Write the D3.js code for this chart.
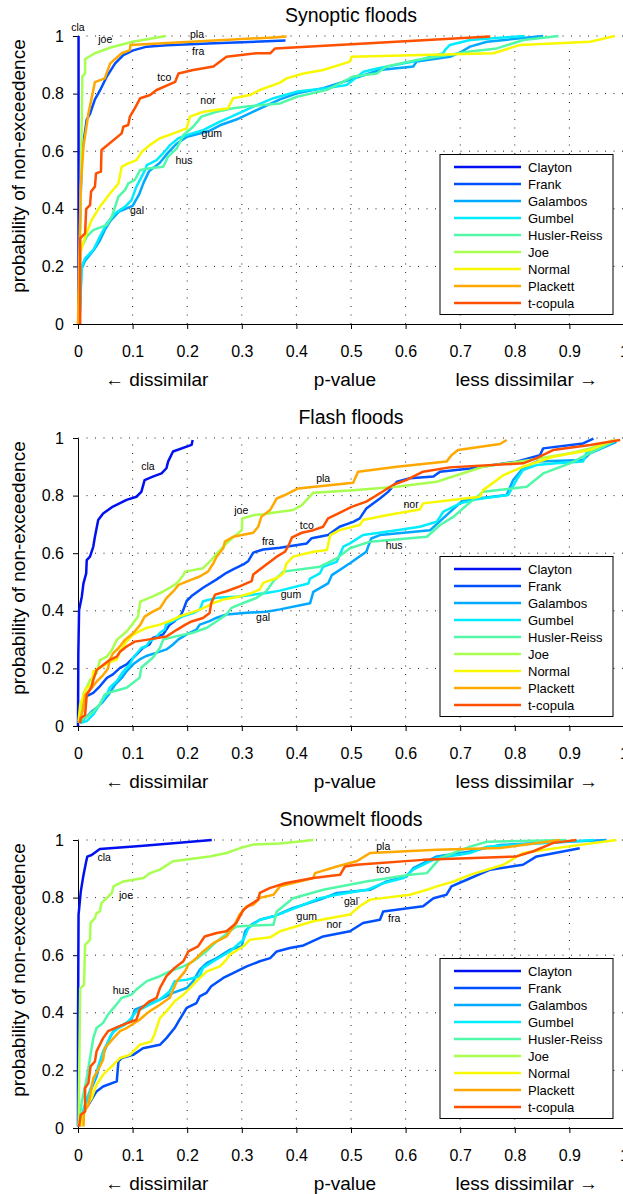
<!DOCTYPE html>
<html>
<head>
<meta charset="utf-8">
<script src="https://cdn.jsdelivr.net/npm/d3@7"></script>
<style>
  body { margin: 0; background: #fff; }
  text { font-family: "Liberation Sans", Arial, sans-serif; fill: #000; }
</style>
</head>
<body>
<div id="chart"></div>
<script>
// copula families, same order in every panel
var copulas = ["Clayton", "Frank", "Galambos", "Gumbel", "Husler-Reiss", "Joe", "Normal", "Plackett", "t-copula"];
var colors = ["#0010f0", "#0050ff", "#00a8ff", "#00ecff", "#50f8a8", "#a8ff50", "#f8f800", "#ffa800", "#ff5000"];
var titles = ["Synoptic floods", "Flash floods", "Snowmelt floods"];
var xTicks = [0, 0.1, 0.2, 0.3, 0.4, 0.5, 0.6, 0.7, 0.8, 0.9, 1];
var yTicks = [0, 0.2, 0.4, 0.6, 0.8, 1];

// empirical cdf of p-values, [p, probability] per copula
var synoptic = [
  [[0.001,0.02],[0.001,1]],
  [[0.001,0],[0.003,0.3],[0.007,0.59],[0.016,0.71],[0.022,0.73],[0.031,0.78],[0.04,0.81],[0.053,0.86],[0.068,0.905],[0.083,0.934],[0.101,0.95],[0.126,0.963],[0.162,0.968],[0.25,0.975],[0.38,0.984]],
  [[0.003,0.02],[0.006,0.19],[0.013,0.22],[0.03,0.26],[0.04,0.29],[0.05,0.33],[0.06,0.36],[0.075,0.39],[0.1,0.41],[0.112,0.45],[0.12,0.49],[0.13,0.53],[0.15,0.56],[0.165,0.595],[0.18,0.625],[0.2,0.65],[0.24,0.67],[0.26,0.69],[0.29,0.71],[0.33,0.745],[0.37,0.78],[0.401,0.801],[0.449,0.819],[0.498,0.848],[0.553,0.882],[0.614,0.894],[0.62,0.911],[0.681,0.928],[0.703,0.946],[0.718,0.963],[0.749,0.98],[0.852,1]],
  [[0.003,0.02],[0.007,0.2],[0.013,0.228],[0.028,0.257],[0.04,0.303],[0.053,0.35],[0.068,0.384],[0.086,0.407],[0.098,0.43],[0.107,0.477],[0.123,0.535],[0.126,0.552],[0.144,0.569],[0.156,0.593],[0.169,0.622],[0.184,0.645],[0.199,0.656],[0.23,0.674],[0.26,0.703],[0.281,0.72],[0.321,0.755],[0.358,0.784],[0.401,0.807],[0.456,0.819],[0.492,0.83],[0.523,0.876],[0.55,0.888],[0.614,0.911],[0.669,0.94],[0.672,0.951],[0.681,0.969],[0.718,0.986],[0.818,1]],
  [[0.002,0.02],[0.004,0.257],[0.016,0.303],[0.028,0.326],[0.053,0.344],[0.062,0.373],[0.074,0.442],[0.086,0.465],[0.092,0.488],[0.104,0.5],[0.114,0.535],[0.132,0.541],[0.156,0.546],[0.165,0.581],[0.181,0.61],[0.193,0.656],[0.211,0.685],[0.226,0.72],[0.254,0.737],[0.284,0.749],[0.309,0.755],[0.37,0.766],[0.401,0.789],[0.456,0.813],[0.504,0.859],[0.547,0.87],[0.565,0.894],[0.62,0.917],[0.718,0.946],[0.767,0.957],[0.816,0.986],[0.88,1]],
  [[0.002,0.02],[0.004,0.3],[0.006,0.6],[0.008,0.86],[0.013,0.87],[0.013,0.92],[0.031,0.94],[0.06,0.96],[0.1,0.98],[0.161,1]],
  [[0.001,0],[0.003,0.2],[0.004,0.245],[0.013,0.303],[0.025,0.361],[0.04,0.407],[0.059,0.454],[0.074,0.488],[0.08,0.546],[0.092,0.558],[0.107,0.569],[0.117,0.598],[0.132,0.622],[0.15,0.645],[0.175,0.662],[0.199,0.679],[0.205,0.72],[0.23,0.737],[0.275,0.749],[0.284,0.784],[0.315,0.795],[0.333,0.8125],[0.37,0.838],[0.382,0.853],[0.413,0.87],[0.449,0.882],[0.498,0.911],[0.501,0.928],[0.761,0.94],[0.81,0.969],[0.938,0.98],[0.983,1]],
  [[0,0],[0.002,0.2],[0.005,0.477],[0.01,0.616],[0.019,0.73],[0.031,0.84],[0.049,0.853],[0.059,0.905],[0.08,0.94],[0.095,0.951],[0.096,0.969],[0.358,0.995],[0.382,0.998]],
  [[0.004,0],[0.004,0.297],[0.013,0.315],[0.015,0.4],[0.022,0.413],[0.024,0.46],[0.031,0.477],[0.033,0.523],[0.042,0.529],[0.043,0.604],[0.08,0.662],[0.083,0.685],[0.092,0.691],[0.095,0.72],[0.104,0.749],[0.114,0.784],[0.132,0.795],[0.144,0.8125],[0.178,0.841],[0.184,0.87],[0.211,0.882],[0.248,0.894],[0.272,0.928],[0.327,0.94],[0.352,0.94],[0.361,0.957],[0.755,0.998]]
];

var flash = [
  [[0,0],[0.0006,0.252],[0.002,0.403],[0.007,0.45],[0.01,0.495],[0.015,0.53],[0.016,0.576],[0.022,0.588],[0.028,0.623],[0.031,0.657],[0.037,0.715],[0.046,0.738],[0.064,0.762],[0.089,0.785],[0.107,0.796],[0.116,0.813],[0.122,0.854],[0.137,0.866],[0.153,0.877],[0.162,0.895],[0.165,0.918],[0.174,0.953],[0.208,0.976],[0.21,0.993]],
  [[0.001,0.017],[0.01,0.08],[0.016,0.104],[0.028,0.115],[0.04,0.138],[0.053,0.167],[0.064,0.179],[0.077,0.202],[0.089,0.214],[0.107,0.248],[0.119,0.271],[0.131,0.283],[0.137,0.306],[0.156,0.318],[0.168,0.352],[0.177,0.364],[0.189,0.387],[0.192,0.399],[0.199,0.434],[0.208,0.451],[0.229,0.48],[0.254,0.509],[0.272,0.532],[0.284,0.544],[0.303,0.561],[0.312,0.573],[0.321,0.602],[0.339,0.613],[0.37,0.619],[0.419,0.634],[0.428,0.652],[0.458,0.663],[0.479,0.692],[0.504,0.709],[0.516,0.721],[0.528,0.755],[0.553,0.79],[0.568,0.813],[0.584,0.848],[0.608,0.86],[0.651,0.866],[0.663,0.883],[0.718,0.894],[0.803,0.918],[0.846,0.94],[0.852,0.964],[0.925,0.981],[0.944,0.998]],
  [[0.004,0.01],[0.013,0.027],[0.025,0.05],[0.037,0.068],[0.046,0.085],[0.058,0.114],[0.068,0.144],[0.08,0.167],[0.089,0.19],[0.101,0.214],[0.113,0.231],[0.125,0.243],[0.143,0.254],[0.162,0.266],[0.174,0.283],[0.184,0.301],[0.199,0.318],[0.217,0.335],[0.223,0.352],[0.241,0.364],[0.254,0.376],[0.272,0.387],[0.309,0.393],[0.345,0.397],[0.37,0.405],[0.425,0.426],[0.431,0.466],[0.458,0.495],[0.465,0.524],[0.498,0.565],[0.528,0.605],[0.537,0.651],[0.553,0.663],[0.645,0.68],[0.705,0.784],[0.785,0.802],[0.797,0.854],[0.815,0.895],[0.84,0.918],[0.925,0.924],[0.938,0.947],[0.986,0.987]],
  [[0.004,0.01],[0.016,0.017],[0.028,0.04],[0.04,0.075],[0.053,0.11],[0.058,0.133],[0.071,0.156],[0.083,0.19],[0.095,0.214],[0.101,0.237],[0.116,0.271],[0.125,0.277],[0.131,0.294],[0.143,0.306],[0.15,0.324],[0.159,0.335],[0.161,0.352],[0.174,0.364],[0.192,0.381],[0.211,0.392],[0.223,0.404],[0.229,0.433],[0.254,0.445],[0.296,0.45],[0.345,0.462],[0.37,0.47],[0.422,0.495],[0.425,0.512],[0.443,0.53],[0.449,0.553],[0.474,0.57],[0.486,0.623],[0.498,0.634],[0.522,0.663],[0.584,0.68],[0.626,0.692],[0.657,0.709],[0.669,0.744],[0.7,0.773],[0.73,0.787],[0.788,0.802],[0.803,0.854],[0.815,0.889],[0.84,0.906],[0.876,0.912],[0.925,0.918],[0.931,0.947],[0.962,0.97],[0.98,0.993]],
  [[0.004,0.017],[0.016,0.033],[0.028,0.05],[0.04,0.075],[0.049,0.11],[0.064,0.12],[0.089,0.133],[0.101,0.15],[0.113,0.168],[0.116,0.203],[0.137,0.237],[0.15,0.271],[0.156,0.3],[0.181,0.312],[0.211,0.324],[0.236,0.341],[0.254,0.364],[0.272,0.387],[0.281,0.41],[0.303,0.427],[0.327,0.445],[0.345,0.468],[0.358,0.503],[0.376,0.536],[0.443,0.553],[0.474,0.582],[0.498,0.617],[0.535,0.64],[0.639,0.657],[0.663,0.698],[0.688,0.727],[0.712,0.767],[0.742,0.813],[0.822,0.831],[0.852,0.877],[0.901,0.912],[0.925,0.935],[0.986,0.993]],
  [[0.001,0.01],[0.01,0.113],[0.022,0.159],[0.034,0.183],[0.04,0.229],[0.053,0.241],[0.062,0.264],[0.071,0.299],[0.089,0.328],[0.101,0.357],[0.11,0.38],[0.114,0.432],[0.137,0.45],[0.156,0.467],[0.177,0.49],[0.184,0.502],[0.193,0.524],[0.196,0.536],[0.229,0.548],[0.244,0.576],[0.257,0.605],[0.278,0.645],[0.3,0.68],[0.301,0.721],[0.321,0.732],[0.339,0.735],[0.37,0.744],[0.394,0.75],[0.41,0.767],[0.431,0.81],[0.504,0.819],[0.584,0.831],[0.657,0.848],[0.742,0.9],[0.828,0.924],[0.901,0.947],[0.938,0.964],[0.986,0.993]],
  [[0.001,0.017],[0.004,0.075],[0.016,0.133],[0.025,0.144],[0.028,0.19],[0.04,0.202],[0.055,0.219],[0.071,0.231],[0.077,0.26],[0.089,0.294],[0.101,0.317],[0.113,0.329],[0.125,0.34],[0.15,0.352],[0.174,0.369],[0.186,0.381],[0.205,0.392],[0.223,0.404],[0.236,0.415],[0.248,0.427],[0.266,0.439],[0.296,0.45],[0.318,0.462],[0.333,0.474],[0.339,0.497],[0.364,0.514],[0.376,0.53],[0.382,0.565],[0.394,0.588],[0.431,0.605],[0.456,0.611],[0.462,0.663],[0.479,0.68],[0.516,0.698],[0.522,0.715],[0.565,0.732],[0.626,0.752],[0.632,0.773],[0.681,0.784],[0.736,0.796],[0.742,0.819],[0.779,0.871],[0.815,0.9],[0.87,0.935],[0.938,0.958],[0.98,0.993]],
  [[0.002,0.01],[0.009,0.056],[0.013,0.108],[0.022,0.125],[0.034,0.154],[0.046,0.177],[0.055,0.2],[0.058,0.229],[0.064,0.252],[0.074,0.27],[0.086,0.299],[0.101,0.322],[0.114,0.351],[0.122,0.38],[0.137,0.397],[0.15,0.409],[0.162,0.444],[0.177,0.473],[0.184,0.49],[0.208,0.508],[0.223,0.519],[0.238,0.536],[0.248,0.565],[0.254,0.588],[0.266,0.617],[0.269,0.64],[0.284,0.657],[0.321,0.671],[0.33,0.692],[0.336,0.727],[0.352,0.75],[0.364,0.79],[0.379,0.802],[0.403,0.825],[0.504,0.845],[0.513,0.883],[0.584,0.9],[0.675,0.918],[0.684,0.94],[0.696,0.958],[0.773,0.979],[0.785,0.993]],
  [[0.004,0.01],[0.005,0.027],[0.013,0.038],[0.016,0.108],[0.025,0.137],[0.028,0.16],[0.034,0.194],[0.046,0.212],[0.058,0.229],[0.071,0.241],[0.077,0.258],[0.089,0.276],[0.104,0.293],[0.125,0.299],[0.162,0.311],[0.181,0.334],[0.196,0.351],[0.208,0.363],[0.229,0.375],[0.241,0.392],[0.244,0.427],[0.251,0.456],[0.272,0.468],[0.296,0.485],[0.318,0.503],[0.321,0.526],[0.345,0.561],[0.364,0.588],[0.379,0.605],[0.386,0.628],[0.392,0.655],[0.41,0.671],[0.431,0.68],[0.449,0.692],[0.458,0.721],[0.479,0.74],[0.501,0.761],[0.528,0.779],[0.553,0.808],[0.577,0.837],[0.601,0.854],[0.632,0.883],[0.681,0.898],[0.815,0.912],[0.839,0.929],[0.87,0.958],[0.938,0.976],[0.993,0.993]]
];

var snowmelt = [
  [[0,0.005],[0,0.358],[0.001,0.74],[0.005,0.82],[0.01,0.878],[0.015,0.925],[0.017,0.942],[0.025,0.948],[0.04,0.969],[0.12,0.98],[0.245,1]],
  [[0.001,0.011],[0.01,0.057],[0.019,0.08],[0.028,0.109],[0.034,0.127],[0.046,0.144],[0.071,0.162],[0.074,0.231],[0.08,0.243],[0.101,0.254],[0.119,0.277],[0.15,0.289],[0.162,0.312],[0.177,0.347],[0.186,0.376],[0.199,0.417],[0.217,0.434],[0.223,0.457],[0.235,0.469],[0.244,0.492],[0.266,0.521],[0.284,0.538],[0.309,0.561],[0.333,0.579],[0.352,0.59],[0.364,0.613],[0.388,0.625],[0.413,0.634],[0.449,0.665],[0.498,0.683],[0.522,0.712],[0.553,0.723],[0.559,0.752],[0.632,0.77],[0.651,0.798],[0.675,0.81],[0.684,0.839],[0.712,0.862],[0.755,0.897],[0.815,0.914],[0.84,0.943],[0.919,0.971]],
  [[0.004,0.005],[0.013,0.08],[0.025,0.139],[0.034,0.179],[0.043,0.243],[0.052,0.283],[0.058,0.312],[0.068,0.347],[0.083,0.359],[0.098,0.376],[0.104,0.411],[0.12,0.423],[0.15,0.446],[0.174,0.469],[0.199,0.486],[0.211,0.51],[0.223,0.55],[0.236,0.573],[0.254,0.59],[0.278,0.619],[0.3,0.631],[0.306,0.683],[0.318,0.706],[0.333,0.723],[0.358,0.735],[0.394,0.764],[0.443,0.793],[0.474,0.816],[0.535,0.827],[0.565,0.856],[0.602,0.873],[0.614,0.902],[0.657,0.943],[0.718,0.96],[0.773,0.983],[0.968,1]],
  [[0.004,0.011],[0.01,0.063],[0.019,0.115],[0.028,0.162],[0.034,0.196],[0.04,0.231],[0.046,0.266],[0.055,0.3],[0.062,0.329],[0.074,0.347],[0.086,0.359],[0.095,0.376],[0.107,0.405],[0.126,0.423],[0.15,0.446],[0.168,0.475],[0.177,0.51],[0.199,0.515],[0.223,0.527],[0.229,0.556],[0.248,0.579],[0.278,0.613],[0.303,0.654],[0.312,0.694],[0.333,0.723],[0.358,0.735],[0.382,0.752],[0.406,0.77],[0.443,0.798],[0.474,0.81],[0.529,0.827],[0.559,0.85],[0.596,0.868],[0.614,0.897],[0.657,0.937],[0.718,0.955],[0.749,0.977],[0.944,1]],
  [[0.001,0.011],[0.007,0.092],[0.016,0.173],[0.022,0.242],[0.028,0.312],[0.034,0.347],[0.046,0.365],[0.055,0.394],[0.068,0.423],[0.08,0.452],[0.098,0.463],[0.107,0.481],[0.126,0.51],[0.15,0.527],[0.168,0.544],[0.193,0.561],[0.211,0.579],[0.235,0.613],[0.254,0.648],[0.278,0.683],[0.29,0.7],[0.358,0.706],[0.364,0.752],[0.394,0.798],[0.449,0.827],[0.528,0.856],[0.608,0.879],[0.639,0.885],[0.663,0.937],[0.718,0.977],[0.749,0.994],[0.895,1]],
  [[0.001,0.005],[0.004,0.485],[0.011,0.497],[0.013,0.636],[0.022,0.654],[0.023,0.712],[0.031,0.729],[0.034,0.746],[0.04,0.752],[0.043,0.781],[0.062,0.816],[0.065,0.839],[0.083,0.856],[0.12,0.868],[0.132,0.885],[0.15,0.897],[0.174,0.926],[0.241,0.943],[0.272,0.955],[0.297,0.972],[0.321,0.984],[0.37,0.988],[0.431,1]],
  [[0.004,0.005],[0.01,0.046],[0.016,0.075],[0.025,0.104],[0.034,0.15],[0.046,0.185],[0.065,0.22],[0.077,0.243],[0.095,0.254],[0.113,0.289],[0.134,0.3],[0.14,0.324],[0.15,0.382],[0.162,0.405],[0.177,0.44],[0.193,0.463],[0.205,0.486],[0.217,0.51],[0.236,0.544],[0.26,0.561],[0.272,0.585],[0.278,0.602],[0.303,0.631],[0.315,0.654],[0.352,0.662],[0.37,0.683],[0.431,0.718],[0.498,0.741],[0.516,0.77],[0.535,0.793],[0.608,0.81],[0.639,0.827],[0.657,0.839],[0.688,0.856],[0.718,0.879],[0.779,0.914],[0.815,0.955],[0.895,0.977],[0.986,1]],
  [[0.01,0.005],[0.011,0.057],[0.019,0.08],[0.028,0.173],[0.037,0.202],[0.046,0.237],[0.049,0.277],[0.065,0.312],[0.077,0.336],[0.089,0.347],[0.113,0.376],[0.12,0.388],[0.131,0.405],[0.15,0.428],[0.168,0.452],[0.181,0.51],[0.196,0.544],[0.202,0.567],[0.217,0.59],[0.229,0.613],[0.248,0.642],[0.272,0.665],[0.287,0.706],[0.296,0.741],[0.309,0.77],[0.321,0.775],[0.333,0.799],[0.358,0.81],[0.37,0.839],[0.431,0.868],[0.434,0.885],[0.474,0.908],[0.51,0.926],[0.535,0.955],[0.657,0.966],[0.773,0.972],[0.883,1]],
  [[0.002,0.005],[0.005,0.046],[0.013,0.057],[0.013,0.139],[0.019,0.156],[0.023,0.214],[0.031,0.231],[0.034,0.266],[0.04,0.289],[0.046,0.312],[0.055,0.336],[0.068,0.347],[0.083,0.359],[0.107,0.376],[0.113,0.411],[0.131,0.44],[0.144,0.452],[0.15,0.486],[0.162,0.527],[0.177,0.556],[0.193,0.579],[0.202,0.613],[0.22,0.631],[0.232,0.665],[0.254,0.677],[0.272,0.683],[0.29,0.712],[0.303,0.758],[0.315,0.775],[0.33,0.793],[0.333,0.816],[0.351,0.833],[0.379,0.85],[0.431,0.868],[0.48,0.879],[0.489,0.908],[0.51,0.914],[0.632,0.931],[0.803,0.943],[0.834,0.961],[0.871,0.99],[0.913,1]]
];

// short curve tags: [text, p, probability]
var synopticTags = [["cla",0,1.03],["joe",0.05,0.99],["pla",0.218,1.007],["fra",0.22,0.948],["tco",0.158,0.858],["nor",0.238,0.778],["gum",0.245,0.663],["hus",0.194,0.569],["gal",0.108,0.396]];
var flashTags = [["cla",0.128,0.90],["joe",0.299,0.75],["fra",0.348,0.64],["pla",0.449,0.861],["tco",0.419,0.698],["nor",0.61,0.771],["hus",0.579,0.628],["gum",0.39,0.458],["gal",0.339,0.378]];
var snowmeltTags = [["cla",0.048,0.941],["joe",0.088,0.809],["hus",0.079,0.479],["pla",0.559,0.979],["tco",0.559,0.899],["gal",0.5,0.788],["gum",0.419,0.736],["nor",0.469,0.708],["fra",0.579,0.729]];

var panels = [synoptic, flash, snowmelt];
var panelTags = [synopticTags, flashTags, snowmeltTags];

var width = 623, height = 1194;
var left = 78, plotW = 546, plotH = 288;
var tops = [36, 438, 840];

var svg = d3.select("#chart").append("svg")
    .attr("width", width).attr("height", height);

var x = d3.scaleLinear().domain([0, 1]).range([left, left + plotW]);

panels.forEach(function(series, i) {
  var top = tops[i];
  var y = d3.scaleLinear().domain([0, 1]).range([top + plotH, top]);
  var g = svg.append("g");

  // dotted grid
  g.selectAll(".vgrid").data(xTicks.slice(1)).enter().append("line")
     .attr("x1", function(d) { return x(d) }).attr("x2", function(d) { return x(d) })
     .attr("y1", y(0)).attr("y2", y(1))
     .style("stroke", "#222").style("stroke-width", 1).style("stroke-dasharray", "1,7.5");
  g.selectAll(".hgrid").data(yTicks.slice(1)).enter().append("line")
     .attr("x1", x(0)).attr("x2", x(1))
     .attr("y1", function(d) { return y(d) }).attr("y2", function(d) { return y(d) })
     .style("stroke", "#222").style("stroke-width", 1).style("stroke-dasharray", "1,7.5");

  // axes (under the curves, as in the original)
  var ax = g.append("g").attr("transform", "translate(0," + (top + plotH) + ")")
     .call(d3.axisBottom(x).tickValues(xTicks).tickFormat(d3.format("~g")).tickSize(5).tickSizeOuter(0).tickPadding(17));
  var ay = g.append("g").attr("transform", "translate(" + left + ",0)")
     .call(d3.axisLeft(y).tickValues(yTicks).tickFormat(d3.format("~g")).tickSize(5).tickSizeOuter(0).tickPadding(9));
  [ax, ay].forEach(function(a) {
    a.selectAll("text").style("font-size", "16px").style("font-family", '"Liberation Sans", Arial, sans-serif');
    a.selectAll("line, path").style("stroke", "#000");
  });

  // curves
  var line = d3.line().x(function(d) { return x(d[0]) }).y(function(d) { return y(d[1]) });
  g.selectAll(".curve").data(series).enter().append("path")
     .attr("d", line)
     .style("fill", "none")
     .style("stroke", function(d, k) { return colors[k] })
     .style("stroke-width", 2.5)
     .style("stroke-linejoin", "round");

  // curve tags
  g.selectAll(".tag").data(panelTags[i]).enter().append("text")
     .attr("x", function(d) { return x(d[1]) })
     .attr("y", function(d) { return y(d[2]) })
     .attr("text-anchor", "middle").attr("dy", "0.35em")
     .style("font-size", "10.5px")
     .text(function(d) { return d[0] });

  // title and axis labels
  g.append("text").attr("x", x(0.5)).attr("y", top - 14)
     .attr("text-anchor", "middle").style("font-size", "19.5px").text(titles[i]);
  var lab = top + plotH + 62;
  g.append("text").attr("x", 105).attr("y", lab).style("font-size", "19px").text("\u2190 dissimilar");
  g.append("text").attr("x", 345).attr("y", lab).attr("text-anchor", "middle").style("font-size", "19px").text("p-value");
  g.append("text").attr("x", 598).attr("y", lab).attr("text-anchor", "end").style("font-size", "19px").text("less dissimilar \u2192");
  g.append("text").attr("transform", "translate(25," + (top + 130) + ") rotate(-90)")
     .attr("text-anchor", "middle").style("font-size", "19px").text("probability of non-exceedence");

  // legend
  var lg = g.append("g").attr("transform", "translate(440," + (top + 118.5) + ")");
  lg.append("rect").attr("width", 173).attr("height", 160)
     .style("fill", "#fff").style("stroke", "#000").style("stroke-width", 1);
  copulas.forEach(function(name, k) {
    var ry = 12.5 + k * 17;
    lg.append("line").attr("x1", 14).attr("x2", 81).attr("y1", ry).attr("y2", ry)
       .style("stroke", colors[k]).style("stroke-width", 2.5);
    lg.append("text").attr("x", 88).attr("y", ry).attr("dy", "0.35em")
       .style("font-size", "13px").text(name);
  });
});
</script>
</body>
</html>
